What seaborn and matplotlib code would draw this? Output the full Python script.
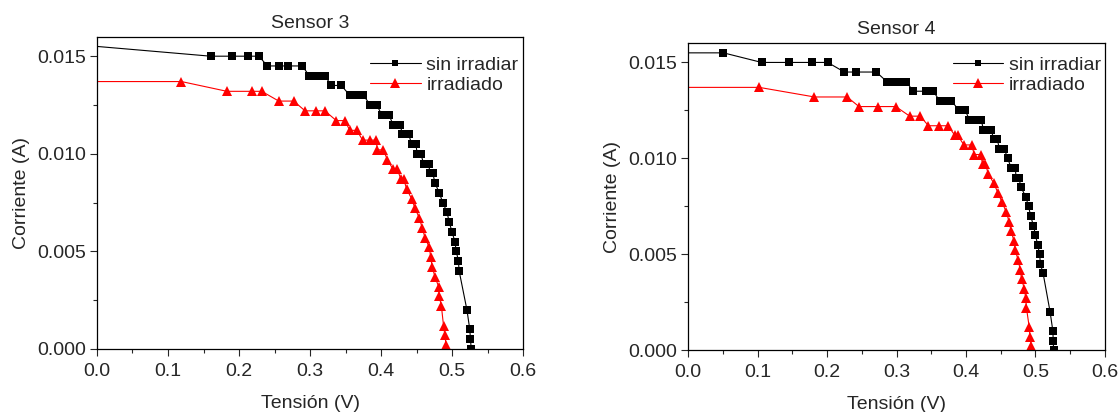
import matplotlib
matplotlib.use("Agg")
import matplotlib.pyplot as plt
from matplotlib.lines import Line2D
from matplotlib.ticker import MultipleLocator, FormatStrFormatter
import seaborn as sns

# Sensor 3 - sin irradiar (V, A)
s3_v_sin = [0.0, 0.160, 0.190, 0.212, 0.228, 0.240, 0.256, 0.269, 0.289, 0.299, 0.306, 0.313,
            0.321, 0.330, 0.344, 0.356, 0.366, 0.375, 0.385, 0.394, 0.401, 0.411, 0.417, 0.427,
            0.430, 0.439, 0.443, 0.449, 0.451, 0.456, 0.460, 0.467, 0.469, 0.473, 0.476, 0.482,
            0.487, 0.493, 0.496, 0.500, 0.504, 0.506, 0.509, 0.510, 0.521, 0.525, 0.526, 0.527]
s3_i_sin = [0.0155, 0.0150, 0.0150, 0.0150, 0.0150, 0.0145, 0.0145, 0.0145, 0.0145, 0.0140,
            0.0140, 0.0140, 0.0140, 0.0135, 0.0135, 0.0130, 0.0130, 0.0130, 0.0125, 0.0125,
            0.0120, 0.0120, 0.0115, 0.0115, 0.0110, 0.0110, 0.0105, 0.0105, 0.0100, 0.0100,
            0.0095, 0.0095, 0.0090, 0.0090, 0.0085, 0.0080, 0.0075, 0.0070, 0.0065, 0.0060,
            0.0055, 0.0050, 0.0045, 0.0040, 0.0020, 0.0010, 0.0005, 0.0000]

# Sensor 3 - irradiado
s3_v_irr = [0.0, 0.119, 0.183, 0.218, 0.232, 0.256, 0.277, 0.293, 0.308, 0.321, 0.337, 0.349,
            0.356, 0.366, 0.374, 0.384, 0.393, 0.395, 0.403, 0.409, 0.417, 0.423, 0.428, 0.432,
            0.436, 0.443, 0.448, 0.454, 0.458, 0.462, 0.468, 0.470, 0.472, 0.476, 0.481, 0.482,
            0.485, 0.488, 0.490, 0.4915]
s3_i_irr = [0.0137, 0.0137, 0.0132, 0.0132, 0.0132, 0.0127, 0.0127, 0.0122, 0.0122, 0.0122,
            0.0117, 0.0117, 0.0112, 0.0112, 0.0107, 0.0107, 0.0107, 0.0102, 0.0102, 0.0097,
            0.0092, 0.0092, 0.0087, 0.0087, 0.0082, 0.0077, 0.0072, 0.0067, 0.0062, 0.0057,
            0.0052, 0.0047, 0.0042, 0.0037, 0.0032, 0.0027, 0.0022, 0.0012, 0.0007, 0.0002]

# Sensor 4 - sin irradiar
s4_v_sin = [0.0, 0.051, 0.106, 0.145, 0.178, 0.201, 0.225, 0.241, 0.271, 0.286, 0.296, 0.305,
            0.314, 0.324, 0.342, 0.353, 0.362, 0.371, 0.379, 0.390, 0.399, 0.405, 0.414, 0.422,
            0.425, 0.436, 0.440, 0.445, 0.448, 0.455, 0.460, 0.465, 0.471, 0.472, 0.476, 0.479,
            0.486, 0.490, 0.493, 0.497, 0.500, 0.503, 0.506, 0.507, 0.511, 0.521, 0.525, 0.5255,
            0.526]
s4_i_sin = [0.0155, 0.0155, 0.0150, 0.0150, 0.0150, 0.0150, 0.0145, 0.0145, 0.0145, 0.0140,
            0.0140, 0.0140, 0.0140, 0.0135, 0.0135, 0.0135, 0.0130, 0.0130, 0.0130, 0.0125,
            0.0125, 0.0120, 0.0120, 0.0120, 0.0115, 0.0115, 0.0110, 0.0110, 0.0105, 0.0105,
            0.0100, 0.0095, 0.0095, 0.0090, 0.0090, 0.0085, 0.0080, 0.0075, 0.0070, 0.0065,
            0.0060, 0.0055, 0.0050, 0.0045, 0.0040, 0.0020, 0.0010, 0.0005, 0.0000]

# Sensor 4 - irradiado
s4_v_irr = [0.0, 0.1025, 0.182, 0.229, 0.246, 0.273, 0.299, 0.319, 0.334, 0.346, 0.361, 0.374,
            0.384, 0.388, 0.397, 0.408, 0.412, 0.421, 0.424, 0.428, 0.432, 0.440, 0.446, 0.452,
            0.458, 0.462, 0.465, 0.469, 0.471, 0.475, 0.478, 0.480, 0.484, 0.486, 0.487, 0.491,
            0.492, 0.494]
s4_i_irr = [0.0137, 0.0137, 0.0132, 0.0132, 0.0127, 0.0127, 0.0127, 0.0122, 0.0122, 0.0117,
            0.0117, 0.0117, 0.0112, 0.0112, 0.0107, 0.0107, 0.0102, 0.0102, 0.0097, 0.0097,
            0.0092, 0.0087, 0.0082, 0.0077, 0.0072, 0.0067, 0.0062, 0.0057, 0.0052, 0.0047,
            0.0042, 0.0037, 0.0032, 0.0027, 0.0022, 0.0012, 0.0007, 0.0002]

titles = ["Sensor 3", "Sensor 4"]
labels = ["sin irradiar", "irradiado"]

sns.set_style("ticks")
plt.rcParams['font.family'] = ['Liberation Sans', 'DejaVu Sans']
plt.rcParams['font.size'] = 14

fig = plt.figure(figsize=(11.2, 4.12), dpi=100)
ax1 = fig.add_axes([0.0866, 0.153, 0.3804, 0.758])
ax2 = fig.add_axes([0.6143, 0.150, 0.3723, 0.745])

panels = [
    (ax1, s3_v_sin, s3_i_sin, s3_v_irr, s3_i_irr, (0.641, 0.937)),
    (ax2, s4_v_sin, s4_i_sin, s4_v_irr, s4_i_irr, (0.635, 0.957)),
]

for k, (ax, vs, i_s, vi, ii, leg_pos) in enumerate(panels):
    # first point (V=0) only draws the line, no marker
    sns.lineplot(x=vs, y=i_s, ax=ax, color="black", lw=0.8, marker="s", markersize=5.7,
                 markeredgewidth=0, estimator=None, sort=False)
    ax.lines[-1].set_markevery(list(range(1, len(vs))))
    sns.lineplot(x=vi, y=ii, ax=ax, color="red", lw=0.8, marker="^", markersize=7.8,
                 markeredgewidth=0, estimator=None, sort=False)
    ax.lines[-1].set_markevery(list(range(1, len(vi))))

    ax.set_xlim(0, 0.6)
    ax.set_ylim(0, 0.016)
    ax.xaxis.set_major_locator(MultipleLocator(0.1))
    ax.xaxis.set_minor_locator(MultipleLocator(0.05))
    ax.yaxis.set_major_locator(MultipleLocator(0.005))
    ax.yaxis.set_minor_locator(MultipleLocator(0.0025))
    ax.xaxis.set_major_formatter(FormatStrFormatter('%.1f'))
    ax.yaxis.set_major_formatter(FormatStrFormatter('%.3f'))
    ax.tick_params(which='major', direction='out', length=5, width=0.8, labelsize=14, pad=3)
    ax.tick_params(axis='x', which='major', pad=5)
    ax.tick_params(which='minor', direction='out', length=3, width=0.8)
    for sp in ax.spines.values():
        sp.set_visible(True)
        sp.set_linewidth(0.9)
        sp.set_color("black")

    ax.set_title(titles[k], fontsize=14, pad=6.5)
    ax.set_xlabel("Tensión (V)", fontsize=14, labelpad=11)
    ax.set_ylabel("Corriente (A)", fontsize=14, labelpad=5)

    handles = [
        Line2D([], [], color="black", lw=0.8, marker="s", markersize=4.5, markeredgewidth=0),
        Line2D([], [], color="red", lw=0.8, marker="^", markersize=6.5, markeredgewidth=0),
    ]
    ax.legend(handles, labels, loc="upper left", bbox_to_anchor=leg_pos, frameon=False,
              fontsize=14, handlelength=2.6, handletextpad=0.3, labelspacing=0.1,
              borderpad=0, borderaxespad=0)

fig.savefig("out.png", dpi=100)
